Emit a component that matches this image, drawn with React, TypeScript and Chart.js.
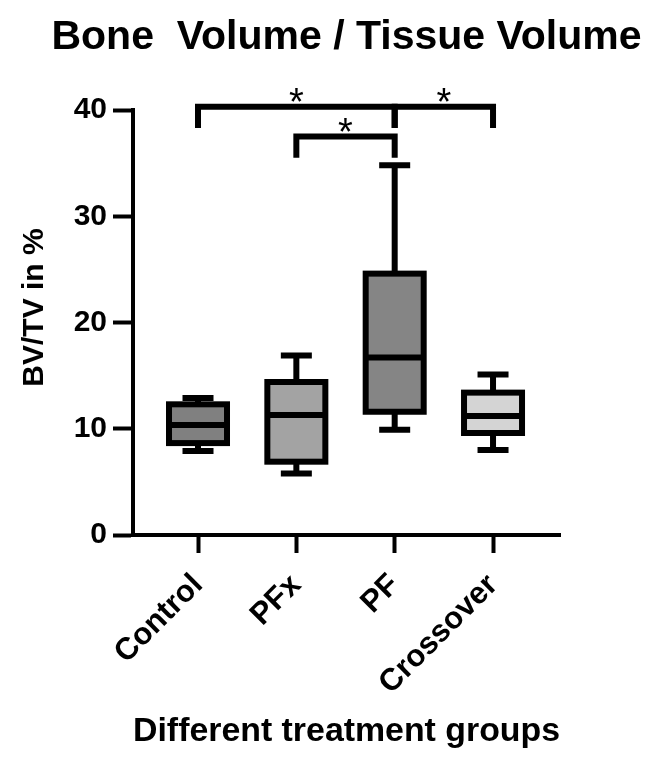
import React, { useEffect, useRef } from 'react';
import { Chart, registerables } from 'chart.js';

Chart.register(...registerables);

// ---- data ----
const groups = ['Control', 'PFx', 'PF', 'Crossover'];
const mins = [7.9, 5.8, 9.9, 8.0];
const q1s = [8.65, 6.9, 11.6, 9.6];
const medians = [10.35, 11.3, 16.7, 11.2];
const q3s = [12.3, 14.4, 24.6, 13.4];
const maxs = [12.9, 16.9, 34.8, 15.1];
const boxColors = ['#808080', '#a3a3a3', '#858585', '#d4d4d4'];
const yTicks = [0, 10, 20, 30, 40];

// significance brackets
const sigFrom = [0, 2, 1];
const sigTo = [2, 3, 2];
const sigLevel = [40.3, 40.3, 37.5];
const sigDrop = [2.0, 2.0, 2.0];
const sigLabel = ['*', '*', '*'];

const yTitle = 'BV/TV in %';

const FONT = "'Liberation Sans', Arial, Helvetica, sans-serif";
const LINE = 6;
const CAP = 31;

const boxPlugin = {
  id: 'boxWhiskers',
  afterDatasetsDraw(chart: any) {
    const ctx = chart.ctx;
    const y = chart.scales.y;
    const meta = chart.getDatasetMeta(0);
    ctx.save();
    ctx.strokeStyle = '#000';
    ctx.lineWidth = LINE;
    ctx.lineCap = 'butt';
    ctx.lineJoin = 'miter';
    meta.data.forEach((bar: any, i: number) => {
      const { x, width } = bar.getProps(['x', 'width'], true);
      const top = y.getPixelForValue(q3s[i]);
      const bot = y.getPixelForValue(q1s[i]);
      const yMax = y.getPixelForValue(maxs[i]);
      const yMin = y.getPixelForValue(mins[i]);
      const med = y.getPixelForValue(medians[i]);
      const left = x - width / 2;
      const right = x + width / 2;
      ctx.beginPath();
      ctx.moveTo(x, top);
      ctx.lineTo(x, yMax);
      ctx.moveTo(x, bot);
      ctx.lineTo(x, yMin);
      ctx.moveTo(x - CAP / 2, yMax);
      ctx.lineTo(x + CAP / 2, yMax);
      ctx.moveTo(x - CAP / 2, yMin);
      ctx.lineTo(x + CAP / 2, yMin);
      ctx.stroke();
      ctx.strokeRect(left, top, width, bot - top);
      ctx.beginPath();
      ctx.moveTo(left, med);
      ctx.lineTo(right, med);
      ctx.stroke();
    });
    ctx.restore();
  },
};

const sigPlugin = {
  id: 'sigBrackets',
  afterDraw(chart: any) {
    const ctx = chart.ctx;
    const xs = chart.scales.x;
    const y = chart.scales.y;
    ctx.save();
    ctx.strokeStyle = '#000';
    ctx.fillStyle = '#000';
    ctx.lineWidth = 6;
    ctx.lineCap = 'butt';
    ctx.lineJoin = 'miter';
    const fs = 38;
    ctx.font = `normal ${fs}px ${FONT}`;
    ctx.textAlign = 'center';
    ctx.textBaseline = 'alphabetic';
    sigFrom.forEach((a, k) => {
      const x1 = xs.getPixelForValue(a);
      const x2 = xs.getPixelForValue(sigTo[k]);
      const yl = y.getPixelForValue(sigLevel[k]);
      const yd = y.getPixelForValue(sigLevel[k] - sigDrop[k]);
      ctx.beginPath();
      ctx.moveTo(x1, yd);
      ctx.lineTo(x1, yl);
      ctx.lineTo(x2, yl);
      ctx.lineTo(x2, yd);
      ctx.stroke();
      const starCenter = yl - 13.5;
      ctx.fillText(sigLabel[k], (x1 + x2) / 2, starCenter + 0.57 * fs);
    });

    // y axis title
    const ca = chart.chartArea;
    ctx.save();
    ctx.translate(35, (ca.top + ca.bottom) / 2 - 15);
    ctx.rotate(-Math.PI / 2);
    ctx.font = `bold 30px ${FONT}`;
    ctx.textAlign = 'center';
    ctx.textBaseline = 'middle';
    ctx.fillText(yTitle, 0, 0);
    ctx.restore();
    ctx.restore();
  },
};

export default function App() {
  const ref = useRef<HTMLCanvasElement>(null);
  useEffect(() => {
    const canvas = ref.current as HTMLCanvasElement;
    const chart = new Chart(canvas, {
      type: 'bar',
      data: {
        datasets: [
          {
            label: 'BV/TV',
            data: groups.map((g, i) => ({ x: i, y: [q1s[i], q3s[i]] })) as any,
            backgroundColor: boxColors,
            borderWidth: 0,
            barThickness: 58,
          },
        ],
      },
      options: {
        responsive: false,
        animation: false,
        layout: { padding: { left: 32, right: 0, top: 0, bottom: 0 } },
        plugins: {
          legend: { display: false },
          tooltip: { enabled: false },
          title: {
            display: true,
            fullSize: true,
            text: 'Bone  Volume / Tissue Volume',
            color: '#000',
            font: { family: FONT, size: 41, weight: 'bold' },
            padding: { top: 13, bottom: 47.8 },
          },
        },
        scales: {
          x: {
            type: 'linear',
            min: -0.661,
            max: 3.681,
            offset: false,
            afterBuildTicks: (s: any) => {
              s.ticks = groups.map((_, i) => ({ value: i }));
            },
            afterFit: (s: any) => {
              s.height = 243;
            },
            ticks: {
              callback: (_v: any, i: number) => groups[i],
              autoSkip: false,
              minRotation: 45,
              maxRotation: 45,
              color: '#000',
              padding: 14,
              font: { family: FONT, size: 31, weight: 'bold' },
            },
            grid: {
              offset: false,
              drawOnChartArea: false,
              drawTicks: true,
              tickLength: 18,
              tickWidth: 4,
              tickColor: '#000',
            },
            border: { display: true, width: 4, color: '#000' },
            title: {
              display: true,
              text: 'Different treatment groups',
              color: '#000',
              font: { family: FONT, size: 34, weight: 'bold' },
              padding: { top: 26, bottom: 26 },
            },
          },
          y: {
            min: 0,
            max: 40,
            afterBuildTicks: (s: any) => {
              s.ticks = yTicks.map((v) => ({ value: v }));
            },
            afterFit: (s: any) => {
              s.width = 101;
            },
            ticks: {
              color: '#000',
              padding: 6,
              font: { family: FONT, size: 30, weight: 'bold' },
            },
            grid: {
              drawOnChartArea: false,
              drawTicks: true,
              tickLength: 20,
              tickWidth: 4,
              tickColor: '#000',
            },
            border: { display: true, width: 4, color: '#000' },
          },
          yRight: {
            type: 'linear',
            position: 'right',
            display: true,
            afterFit: (s: any) => {
              s.width = 101;
            },
            ticks: { display: false },
            grid: { display: false, drawTicks: false },
            border: { display: false },
          },
        },
      } as any,
      plugins: [boxPlugin, sigPlugin],
    });
    return () => chart.destroy();
  }, []);
  return (
    <div style={{ position: 'absolute', left: 0, top: 0, width: 661, height: 778, background: '#fff' }}>
      <canvas ref={ref} width={661} height={778} style={{ display: 'block' }} />
    </div>
  );
}
